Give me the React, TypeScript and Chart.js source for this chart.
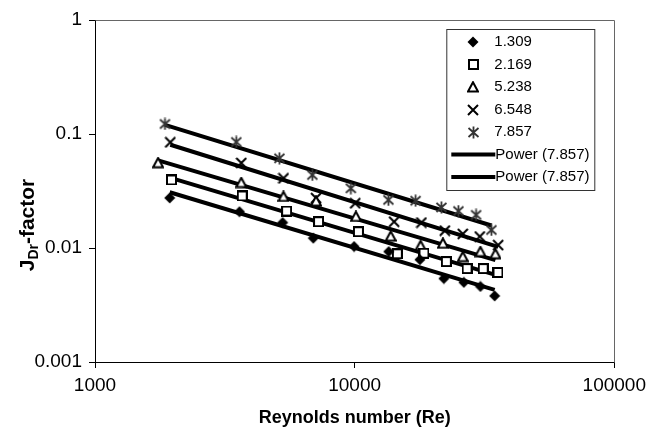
import { useEffect, useRef } from 'react';
import { Chart, registerables } from 'chart.js';

Chart.register(...registerables);

// ---- data ----
const seriesNames = ['1.309', '2.169', '5.238', '6.548', '7.857'];

const re1309 = [1940, 3600, 5280, 6930, 9950, 13530, 17840, 22060, 26330, 30510, 34620];
const j1309 = [0.0275, 0.0208, 0.0167, 0.0122, 0.0103, 0.0093, 0.0079, 0.0054, 0.005, 0.0046, 0.0038];

const re2169 = [1970, 3690, 5470, 7260, 10340, 14600, 18490, 22550, 27100, 31280, 35650];
const j2169 = [0.0395, 0.0286, 0.0211, 0.017, 0.0139, 0.0089, 0.009, 0.0076, 0.0066, 0.0066, 0.0061];

const re5238 = [1750, 3660, 5320, 7100, 10110, 13770, 17950, 21870, 26090, 30510, 34840];
const j5238 = [0.056, 0.0375, 0.0283, 0.0258, 0.0189, 0.0127, 0.0105, 0.011, 0.0084, 0.0093, 0.0089];

const re6548 = [1950, 3660, 5320, 7100, 10050, 14190, 18080, 22250, 26090, 30330, 35700];
const j6548 = [0.0846, 0.0557, 0.0409, 0.0274, 0.0247, 0.017, 0.0167, 0.0142, 0.0133, 0.0126, 0.0106];

const re7857 = [1860, 3500, 5130, 6870, 9670, 13490, 17170, 21580, 25100, 29350, 33630];
const j7857 = [0.1224, 0.0851, 0.0612, 0.0437, 0.0334, 0.0264, 0.026, 0.0227, 0.0211, 0.0195, 0.0144];

const trendLabels = ['Power (7.857)', 'Power (7.857)'];
const xTickValues = [1000, 10000, 100000];
const yTickValues = [0.001, 0.01, 0.1, 1];
const xTitle = 'Reynolds number (Re)';
const yTitleMain = 'J';
const yTitleSub = 'Dr';
const yTitleRest = '-factor';

const FONT = "'Liberation Sans', Arial, sans-serif";

// ---- marker images ----
function mk(size: number, draw: (c: CanvasRenderingContext2D) => void) {
  const c = document.createElement('canvas');
  c.width = size;
  c.height = size;
  const ctx = c.getContext('2d')!;
  draw(ctx);
  return c;
}

function makeMarkers() {
  const diamond = mk(12, (c) => {
    c.fillStyle = '#000';
    c.beginPath();
    c.moveTo(6, 0.5);
    c.lineTo(11.5, 6);
    c.lineTo(6, 11.5);
    c.lineTo(0.5, 6);
    c.closePath();
    c.fill();
  });
  const square = mk(11, (c) => {
    c.fillStyle = '#fff';
    c.strokeStyle = '#000';
    c.lineWidth = 2;
    c.fillRect(1, 1, 9, 9);
    c.strokeRect(1, 1, 9, 9);
  });
  const triangle = mk(12, (c) => {
    c.fillStyle = '#fff';
    c.strokeStyle = '#000';
    c.lineWidth = 2;
    c.beginPath();
    c.moveTo(6, 1.2);
    c.lineTo(11, 10.5);
    c.lineTo(1, 10.5);
    c.closePath();
    c.fill();
    c.stroke();
  });
  const cross = mk(12, (c) => {
    c.strokeStyle = '#000';
    c.lineWidth = 2;
    c.beginPath();
    c.moveTo(1, 1);
    c.lineTo(11, 11);
    c.moveTo(11, 1);
    c.lineTo(1, 11);
    c.stroke();
  });
  const asterisk = mk(13, (c) => {
    c.strokeStyle = '#333';
    c.lineWidth = 1.8;
    c.beginPath();
    c.moveTo(1.5, 2);
    c.lineTo(11.5, 11);
    c.moveTo(11.5, 2);
    c.lineTo(1.5, 11);
    c.moveTo(6.5, 0.5);
    c.lineTo(6.5, 12.5);
    c.stroke();
  });
  return [diamond, square, triangle, cross, asterisk];
}

function powerFit(xs: number[], ys: number[]) {
  const n = xs.length;
  let sx = 0, sy = 0, sxy = 0, sxx = 0;
  for (let i = 0; i < n; i++) {
    const lx = Math.log(xs[i]);
    const ly = Math.log(ys[i]);
    sx += lx; sy += ly; sxy += lx * ly; sxx += lx * lx;
  }
  const b = (n * sxy - sx * sy) / (n * sxx - sx * sx);
  const a = Math.exp((sy - b * sx) / n);
  return { a, b };
}

export default function App() {
  const ref = useRef<HTMLCanvasElement | null>(null);

  useEffect(() => {
    if (!ref.current) return;
    const markers = makeMarkers();
    const xs = [re1309, re2169, re5238, re6548, re7857];
    const ys = [j1309, j2169, j5238, j6548, j7857];

    const scatterSets = seriesNames.map((name, i) => ({
      type: 'scatter' as const,
      label: name,
      data: xs[i].map((x, k) => ({ x, y: ys[i][k] })),
      pointStyle: markers[i],
      pointRadius: 6,
      showLine: false,
      order: 0,
    }));

    const trendSets = seriesNames.map((name, i) => {
      const { a, b } = powerFit(xs[i], ys[i]);
      const x0 = Math.min(...xs[i]);
      const x1 = Math.max(...xs[i]);
      return {
        type: 'line' as const,
        label: 'Power (' + name + ')',
        data: [
          { x: x0, y: a * Math.pow(x0, b) },
          { x: x1, y: a * Math.pow(x1, b) },
        ],
        borderColor: '#000',
        borderWidth: 4,
        pointRadius: 0,
        fill: false,
        order: 1,
      };
    });

    const frame = {
      id: 'frame',
      beforeDatasetsDraw(chart: any) {
        const { ctx, chartArea: a } = chart;
        ctx.save();
        ctx.strokeStyle = '#666';
        ctx.lineWidth = 1;
        ctx.beginPath();
        ctx.moveTo(Math.round(a.left) + 0.5, Math.round(a.top) + 0.5);
        ctx.lineTo(Math.round(a.right) + 0.5, Math.round(a.top) + 0.5);
        ctx.lineTo(Math.round(a.right) + 0.5, Math.round(a.bottom) + 0.5);
        ctx.stroke();
        ctx.restore();
      },
    };

    const legendBox = {
      id: 'legendBox',
      afterDraw(chart: any) {
        const ctx: CanvasRenderingContext2D = chart.ctx;
        const a = chart.chartArea;
        const bx = a.right - 168;
        const by = a.top + 9;
        const bw = 148;
        const bh = 161;
        ctx.save();
        ctx.fillStyle = '#fff';
        ctx.fillRect(bx, by, bw, bh);
        ctx.strokeStyle = '#333';
        ctx.lineWidth = 1;
        ctx.strokeRect(bx + 0.5, by + 0.5, bw, bh);
        ctx.font = '15px ' + FONT;
        ctx.fillStyle = '#000';
        ctx.textBaseline = 'middle';
        ctx.textAlign = 'left';
        const rowH = 22.5;
        seriesNames.forEach((name, i) => {
          const cy = by + 13 + i * rowH;
          const m = markers[i];
          ctx.drawImage(m, Math.round(bx + 27 - m.width / 2), Math.round(cy - m.height / 2));
          ctx.fillText(name, bx + 48, cy);
        });
        trendLabels.forEach((t, j) => {
          const cy = by + 13 + (seriesNames.length + j) * rowH;
          ctx.strokeStyle = '#000';
          ctx.lineWidth = 4;
          ctx.beginPath();
          ctx.moveTo(bx + 5, cy);
          ctx.lineTo(bx + 49, cy);
          ctx.stroke();
          ctx.fillText(t, bx + 49, cy);
        });
        ctx.restore();
      },
    };

    const yTitle = {
      id: 'yTitle',
      afterDraw(chart: any) {
        const ctx: CanvasRenderingContext2D = chart.ctx;
        const a = chart.chartArea;
        const cy = (a.top + a.bottom) / 2 + 34;
        ctx.save();
        ctx.translate(34, cy);
        ctx.rotate(-Math.PI / 2);
        const big = 'bold 21px ' + FONT;
        const small = 'bold 14px ' + FONT;
        ctx.font = big;
        const w1 = ctx.measureText(yTitleMain).width;
        const w3 = ctx.measureText(yTitleRest).width;
        ctx.font = small;
        const w2 = ctx.measureText(yTitleSub).width;
        const total = w1 + w2 + w3;
        let x = -total / 2;
        ctx.fillStyle = '#000';
        ctx.textBaseline = 'alphabetic';
        ctx.textAlign = 'left';
        ctx.font = big;
        ctx.fillText(yTitleMain, x, 0);
        x += w1;
        ctx.font = small;
        ctx.fillText(yTitleSub, x, 4);
        x += w2;
        ctx.font = big;
        ctx.fillText(yTitleRest, x, 0);
        ctx.restore();
      },
    };

    const chart = new Chart(ref.current, {
      type: 'scatter',
      data: { datasets: [...scatterSets, ...trendSets] as any },
      options: {
        responsive: false,
        animation: false,
        layout: { padding: { left: 0, right: 36, top: 20, bottom: 0 } },
        scales: {
          x: {
            type: 'logarithmic',
            min: 1000,
            max: 100000,
            position: 'bottom',
            afterBuildTicks: (s: any) => {
              s.ticks = xTickValues.map((v) => ({ value: v }));
            },
            afterFit: (s: any) => {
              s.height = 70;
            },
            ticks: {
              callback: (v: any) => String(Number(v)),
              color: '#000',
              font: { family: FONT, size: 19 },
              padding: 6,
              maxRotation: 0,
              autoSkip: false,
            },
            grid: {
              display: true,
              drawOnChartArea: false,
              drawTicks: true,
              tickLength: 6,
              color: '#000',
              lineWidth: 1,
            },
            border: { display: true, color: '#000', width: 1 },
            title: {
              display: true,
              text: xTitle,
              color: '#000',
              font: { family: FONT, size: 18, weight: 'bold' },
              padding: { top: 0, bottom: 3 },
            },
          },
          y: {
            type: 'logarithmic',
            min: 0.001,
            max: 1,
            afterBuildTicks: (s: any) => {
              s.ticks = yTickValues.map((v) => ({ value: v }));
            },
            afterFit: (s: any) => {
              s.width = 95;
            },
            ticks: {
              callback: (v: any) => String(Number(v)),
              color: '#000',
              font: { family: FONT, size: 19 },
              padding: 7,
              autoSkip: false,
            },
            grid: {
              display: true,
              drawOnChartArea: false,
              drawTicks: true,
              tickLength: 6,
              color: '#000',
              lineWidth: 1,
            },
            border: { display: true, color: '#000', width: 1 },
          },
        },
        plugins: {
          legend: { display: false },
          tooltip: { enabled: false },
        },
      } as any,
      plugins: [frame, legendBox, yTitle],
    });

    return () => chart.destroy();
  }, []);

  return (
    <div style={{ position: 'fixed', left: 0, top: 0, width: 652, height: 432, background: '#fff' }}>
      <canvas ref={ref} width={652} height={432} style={{ display: 'block' }} />
    </div>
  );
}
